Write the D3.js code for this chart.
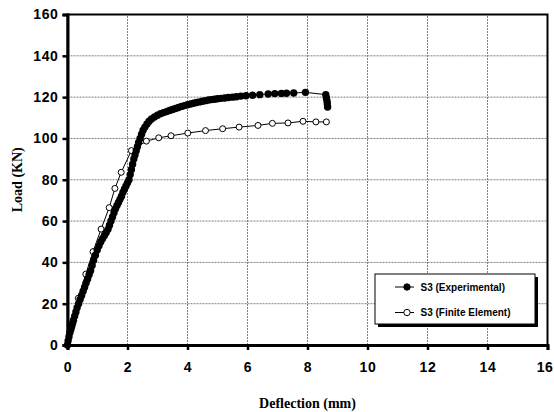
<!DOCTYPE html>
<html>
<head>
<meta charset="utf-8">
<script src="https://cdn.jsdelivr.net/npm/d3@7"></script>
<style>
  body { margin: 0; background: #fff; }
  text { font-family: "Liberation Sans", Arial, sans-serif; }
</style>
</head>
<body>
<script>
const w = 554;
const h = 412;

// Series: [deflection (mm), load (KN)]
const experimental = [
  [0, 0], [0.02, 2], [0.05, 4], [0.08, 6], [0.11, 7.5], [0.14, 9], [0.17, 10.5],
  [0.2, 12], [0.24, 14], [0.28, 16], [0.32, 18], [0.37, 20], [0.42, 22], [0.47, 24],
  [0.52, 26], [0.57, 28], [0.62, 30], [0.67, 32], [0.72, 34], [0.77, 36], [0.82, 38.5],
  [0.87, 41], [0.93, 43.5], [0.99, 46], [1.05, 48], [1.11, 50], [1.17, 51.5], [1.23, 53],
  [1.29, 54.5], [1.35, 56], [1.4, 58], [1.45, 60], [1.5, 62], [1.55, 64], [1.6, 66],
  [1.65, 67.5], [1.7, 69], [1.75, 70.5], [1.8, 72], [1.85, 74], [1.9, 75.5], [1.95, 77],
  [2.0, 78.5], [2.05, 80], [2.09, 82.5], [2.13, 85], [2.17, 87.5], [2.21, 90], [2.25, 92],
  [2.29, 94], [2.33, 96], [2.37, 98], [2.42, 100], [2.47, 102], [2.52, 104], [2.58, 105.5],
  [2.65, 107], [2.72, 108.3], [2.8, 109.4], [2.9, 110.4], [3.0, 111.2], [3.1, 112],
  [3.2, 112.5], [3.3, 113], [3.4, 113.5], [3.5, 114], [3.6, 114.5], [3.7, 115],
  [3.8, 115.5], [3.9, 115.9], [4.0, 116.3], [4.1, 116.7], [4.2, 117], [4.3, 117.4],
  [4.4, 117.7], [4.5, 118], [4.6, 118.3], [4.7, 118.6], [4.8, 118.8], [4.9, 119],
  [5.0, 119.2], [5.12, 119.4], [5.24, 119.6], [5.36, 119.8], [5.5, 120], [5.63, 120.2],
  [5.78, 120.5], [5.95, 120.7], [6.17, 120.9], [6.41, 121.2], [6.69, 121.5], [6.91, 121.7],
  [7.13, 121.8], [7.3, 121.9], [7.54, 122], [7.93, 122.3], [8.61, 121.2], [8.63, 119.6],
  [8.65, 118.2], [8.66, 116.8], [8.67, 115.2]
];

const finiteElement = [
  [0, 0], [0.36, 22.6], [0.61, 34.3], [0.85, 45.2], [1.12, 56.1], [1.39, 66.5],
  [1.58, 75.8], [1.79, 83.6], [2.13, 94.1], [2.63, 98.7], [3.04, 100.3], [3.45, 101.3],
  [4.01, 102.6], [4.6, 103.8], [5.17, 104.7], [5.72, 105.5], [6.35, 106.3], [6.83, 107.3],
  [7.35, 107.5], [7.85, 108.3], [8.28, 108], [8.63, 108]
];

const xTicks = [0, 2, 4, 6, 8, 10, 12, 14, 16];
const yTicks = [0, 20, 40, 60, 80, 100, 120, 140, 160];
const legendLabels = ["S3 (Experimental)", "S3 (Finite Element)"];

const margin = { left: 67.5, right: 6.5, top: 14.5, bottom: 67 };

const x = d3.scaleLinear().domain([0, 16]).range([margin.left, w - margin.right]);
const y = d3.scaleLinear().domain([0, 160]).range([h - margin.bottom, margin.top]);

const svg = d3.select("body").append("svg")
  .attr("width", w)
  .attr("height", h);

// grid lines
svg.append("g").selectAll("line").data(xTicks.slice(1, -1)).enter().append("line")
  .attr("x1", d => x(d)).attr("x2", d => x(d))
  .attr("y1", y(0)).attr("y2", y(160))
  .attr("stroke", "#808080").attr("stroke-width", 1).attr("stroke-dasharray", "2,1");
svg.append("g").selectAll("line").data(yTicks.slice(1, -1)).enter().append("line")
  .attr("x1", x(0)).attr("x2", x(16))
  .attr("y1", d => y(d)).attr("y2", d => y(d))
  .attr("stroke", "#808080").attr("stroke-width", 1).attr("stroke-dasharray", "2,1");

// plot border
svg.append("rect")
  .attr("x", x(0)).attr("y", y(160))
  .attr("width", x(16) - x(0)).attr("height", y(0) - y(160))
  .attr("fill", "none").attr("stroke", "#000").attr("stroke-width", 2);

// axes
const xAxis = svg.append("g")
  .attr("transform", `translate(0,${y(0)})`)
  .call(d3.axisBottom(x).tickValues(xTicks).tickSize(5).tickPadding(12));
const yAxis = svg.append("g")
  .attr("transform", `translate(${x(0)},0)`)
  .call(d3.axisLeft(y).tickValues(yTicks).tickSize(5).tickPadding(4));

[xAxis, yAxis].forEach(a => {
  a.select(".domain").attr("stroke", "#000").attr("stroke-width", 3);
  a.selectAll(".tick line").attr("stroke", "#000").attr("stroke-width", 2.5);
  a.selectAll(".tick text")
    .attr("fill", "#000")
    .style("font-family", "'Liberation Sans', Arial, sans-serif")
    .style("font-size", "14px")
    .style("font-weight", "bold")
    .style("letter-spacing", "0.6px");
});
// last x label pulled in so it stays inside the window
xAxis.selectAll(".tick text").filter(d => d === 16)
  .attr("text-anchor", "end").attr("x", w - 1 - x(16));

const line = d3.line().x(d => x(d[0])).y(d => y(d[1]));

// finite element series
svg.append("path").datum(finiteElement)
  .attr("d", line).attr("fill", "none").attr("stroke", "#000").attr("stroke-width", 1);
svg.append("g").selectAll("circle").data(finiteElement).enter().append("circle")
  .attr("cx", d => x(d[0])).attr("cy", d => y(d[1])).attr("r", 3)
  .attr("fill", "#fff").attr("stroke", "#000").attr("stroke-width", 1);

// experimental series
svg.append("path").datum(experimental)
  .attr("d", line).attr("fill", "none").attr("stroke", "#000").attr("stroke-width", 1);
svg.append("g").selectAll("circle").data(experimental).enter().append("circle")
  .attr("cx", d => x(d[0])).attr("cy", d => y(d[1])).attr("r", 3.7)
  .attr("fill", "#000");

// axis titles
svg.append("text")
  .attr("x", (x(0) + x(16)) / 2).attr("y", 408)
  .attr("text-anchor", "middle")
  .style("font-family", "'Liberation Serif', 'Times New Roman', serif")
  .style("font-weight", "bold").style("font-size", "14px")
  .text("Deflection (mm)");
svg.append("text")
  .attr("transform", `translate(22,${(y(0) + y(160)) / 2}) rotate(-90)`)
  .attr("text-anchor", "middle")
  .style("font-family", "'Liberation Serif', 'Times New Roman', serif")
  .style("font-weight", "bold").style("font-size", "14px")
  .text("Load (KN)");

// legend
const lg = svg.append("g").attr("transform", "translate(375,274)");
lg.append("rect").attr("x", 3).attr("y", 3).attr("width", 160).attr("height", 50).attr("fill", "#000");
lg.append("rect").attr("width", 160).attr("height", 50)
  .attr("fill", "#fff").attr("stroke", "#000").attr("stroke-width", 1);
legendLabels.forEach((lab, i) => {
  const cy = 13 + i * 25.5;
  lg.append("line").attr("x1", 20).attr("x2", 39).attr("y1", cy).attr("y2", cy)
    .attr("stroke", "#000").attr("stroke-width", 1);
  lg.append("circle").attr("cx", 32).attr("cy", cy).attr("r", 3.2)
    .attr("fill", i === 0 ? "#000" : "#fff").attr("stroke", "#000").attr("stroke-width", 1);
  lg.append("text").attr("x", 45.5).attr("y", cy + 3.6)
    .style("font-size", "10px").style("font-weight", "bold")
    .text(lab);
});
</script>
</body>
</html>
